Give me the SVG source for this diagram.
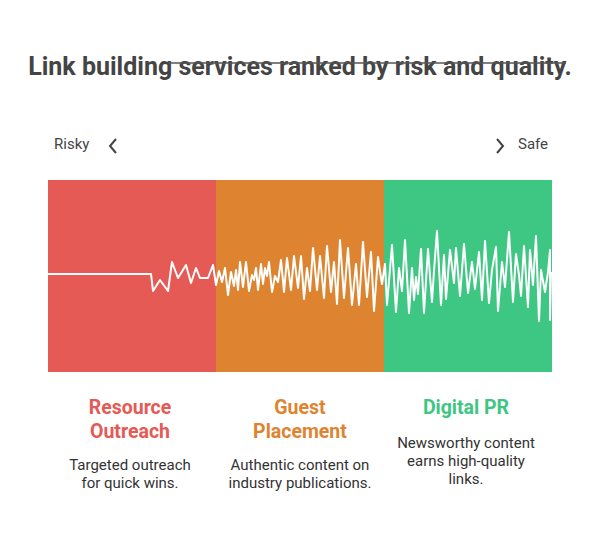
<svg xmlns="http://www.w3.org/2000/svg" width="601" height="540" viewBox="0 0 601 540">
<style>
text{font-family:Roboto,"Liberation Sans",sans-serif}
.t{font-size:25px;font-weight:bold;fill:#444}
.s{font-size:15px;fill:#444}
.h{font-size:19.5px;font-weight:bold;text-anchor:middle}
.d{font-size:15px;fill:#333;text-anchor:middle}
.ch{fill:none;stroke:#444;stroke-width:2}
</style>
<rect width="601" height="540" fill="#fff"/>
<text class="t" x="300" y="75" text-anchor="middle">Link building services ranked by risk and quality.</text>
<line x1="168" y1="63" x2="566" y2="63" stroke="#555" stroke-width="1.5"/>
<text class="s" x="54" y="149">Risky</text>
<path class="ch" d="M116,139 L110,146 L116,153"/>
<path class="ch" d="M497,139 L503,146 L497,153"/>
<text class="s" x="518" y="149">Safe</text>
<g id="risky"><rect x="48" y="180" width="168" height="192" fill="#E55A55"/></g>
<g id="moderate"><rect x="216" y="180" width="168" height="192" fill="#DE8430"/></g>
<g id="safe"><rect x="384" y="180" width="168" height="192" fill="#3EC683"/></g>
<g id="connectors">
<polyline fill="none" stroke="#fff" stroke-width="2" stroke-linejoin="round" points="48,274 151,274 153,291 160,280 168,291 172,262 178,278 186,265 191,283 196,268 200,278 208,278 213,265 216,285 219,271 222,282 225,268 228,295 231,272 234,286 236,270 238,290 240,262 243,287 246,262 249,291 252,275 254,280 256,268 258,290 261,264 263,284 265,268 267,276 269,262 272,292 275,276 278,282 281,260 284,292 287,258 291,290 294,256 298,288 301,256 304,299 307,268 310,291 313,248 317,290 320,256 324,298 327,246 331,292 334,262 337,304 340,240 344,298 348,248 352,305 356,264 359,305 363,242 367,297 371,252 374,311 378,257 381,278 382,284 385,264 387,305 392,245 396,312 399,268 402,291 405,240 409,313 412,268 414,300 416,277 418,294 421,249 424,313 428,249 432,302 434,271 437,231 441,305 444,255 446,299 450,250 454,283 456,248 460,296 464,244 468,293 472,262 475,289 479,252 482,300 485,241 489,303 492,270 496,247 498,311 502,262 505,287 509,232 513,302 516,254 519,275 521,296 524,246 528,307 530,250 533,285 536,236 539,321 541,270 545,292 548,272 550,250 550,320 551,272"/>
</g>
<text class="h" x="130" y="414" fill="#E55A55">Resource</text>
<text class="h" x="130" y="438" fill="#E55A55">Outreach</text>
<text class="d" x="130" y="470">Targeted outreach</text>
<text class="d" x="130" y="488">for quick wins.</text>
<text class="h" x="300" y="414" fill="#DE8430">Guest</text>
<text class="h" x="300" y="438" fill="#DE8430">Placement</text>
<text class="d" x="300" y="470">Authentic content on</text>
<text class="d" x="300" y="488">industry publications.</text>
<text class="h" x="466" y="414" fill="#3EC683">Digital PR</text>
<text class="d" x="466" y="448">Newsworthy content</text>
<text class="d" x="466" y="466">earns high-quality</text>
<text class="d" x="466" y="484">links.</text>
</svg>
